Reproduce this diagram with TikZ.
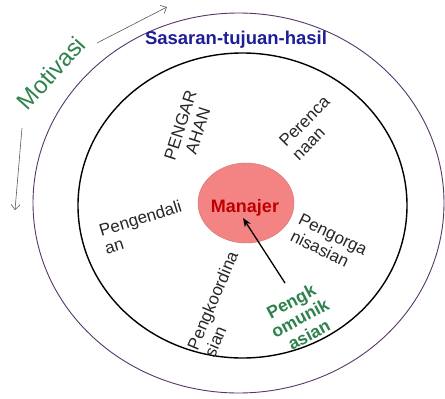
\documentclass[tikz,border=0pt]{standalone}
\usepackage{fontspec}
\setmainfont{Liberation Sans}
\usepackage{xcolor}
\usepackage{tikz}
\usetikzlibrary{arrows.meta,positioning}

\definecolor{anneau}{RGB}{85,55,105}
\definecolor{vertmotiv}{RGB}{46,130,78}
\definecolor{bleusasaran}{RGB}{30,30,150}
\definecolor{rougemanajer}{RGB}{190,0,0}
\definecolor{roseplein}{RGB}{244,132,132}
\definecolor{rosebord}{RGB}{205,110,110}

\begin{document}
\begin{tikzpicture}[x=1pt,y=-1pt,
		ring/.style={draw=anneau, line width=0.9pt},
		orbit/.style={draw=black, line width=1.4pt},
		fungsi/.style={font=\fontsize{17}{18.5}\selectfont, text=black!85, inner sep=0pt},
		motivarrow/.style={-{Straight Barb[length=5pt,width=9pt]}, draw=gray!70!black, line width=0.6pt},
		->,>=stealth
		]
		\useasboundingbox (0,0) rectangle (445,399);
	
		% --- Anneaux ---
		\draw[ring, -] (238.5,203) ellipse [x radius=205.5, y radius=190];
		\draw[orbit, -] (242.5,205.5) ellipse [x radius=164.5, y radius=152.5];
		\node[circle, draw=rosebord, fill=roseplein, minimum size=80pt, inner sep=0pt,
			xscale=1.2] (M) at (246,203) {};
		\node[font=\bfseries\fontsize{18}{20}\selectfont, text=rougemanajer] (manajer) at (245,208) {Manajer};
	
		% Textes du haut
		\node[font=\bfseries\fontsize{18.5}{20}\selectfont, text=bleusasaran] (sasaran) at (236,40) {Sasaran-tujuan-hasil};
		\node[font=\fontsize{24}{26}\selectfont, text=vertmotiv, rotate=48] (motivasi) at (51,73) {Motivasi};
	
		% Flèches de motivasi
		\coordinate (m1a) at (97,43);
		\coordinate (m1b) at (167,7);
		\coordinate (m2a) at (22,128);
		\coordinate (m2b) at (15,210);
		\draw[motivarrow] (m1a) -- (m1b);
		\draw[motivarrow] (m2a) -- (m2b);
	
		% Fonctions
		\node[fungsi, rotate=72, align=center] (pengarahan) at (189,128) {PENGAR\\AHAN};
		\node[fungsi, rotate=45, align=left] (perencanaan) at (311,128) {Perenca\\naan};
		\node[fungsi, rotate=17, align=left] (pengendalian) at (143,227) {Pengendali\\an};
		\node[fungsi, rotate=-26, align=left] (pengorganisasian) at (329,243) {Pengorga\\nisasian};
		\node[fungsi, rotate=67, align=left] (pengkoordinasian) at (221,304) {Pengkoordina\\sian};
		\node[fungsi, font=\bfseries\fontsize{17.5}{19}\selectfont, text=vertmotiv, rotate=28, align=center] (pengkomunikasian) at (300,318) {Pengk\\omunik\\asian};
	
		% Flèche vers le manajer
		\coordinate (kom) at (285,283);
		\coordinate (pusat) at (243,218);
		\draw[-{Stealth[length=9pt,width=7pt]}, line width=1.3pt] (kom) -- (pusat);
	
	\end{tikzpicture}
\end{document}
